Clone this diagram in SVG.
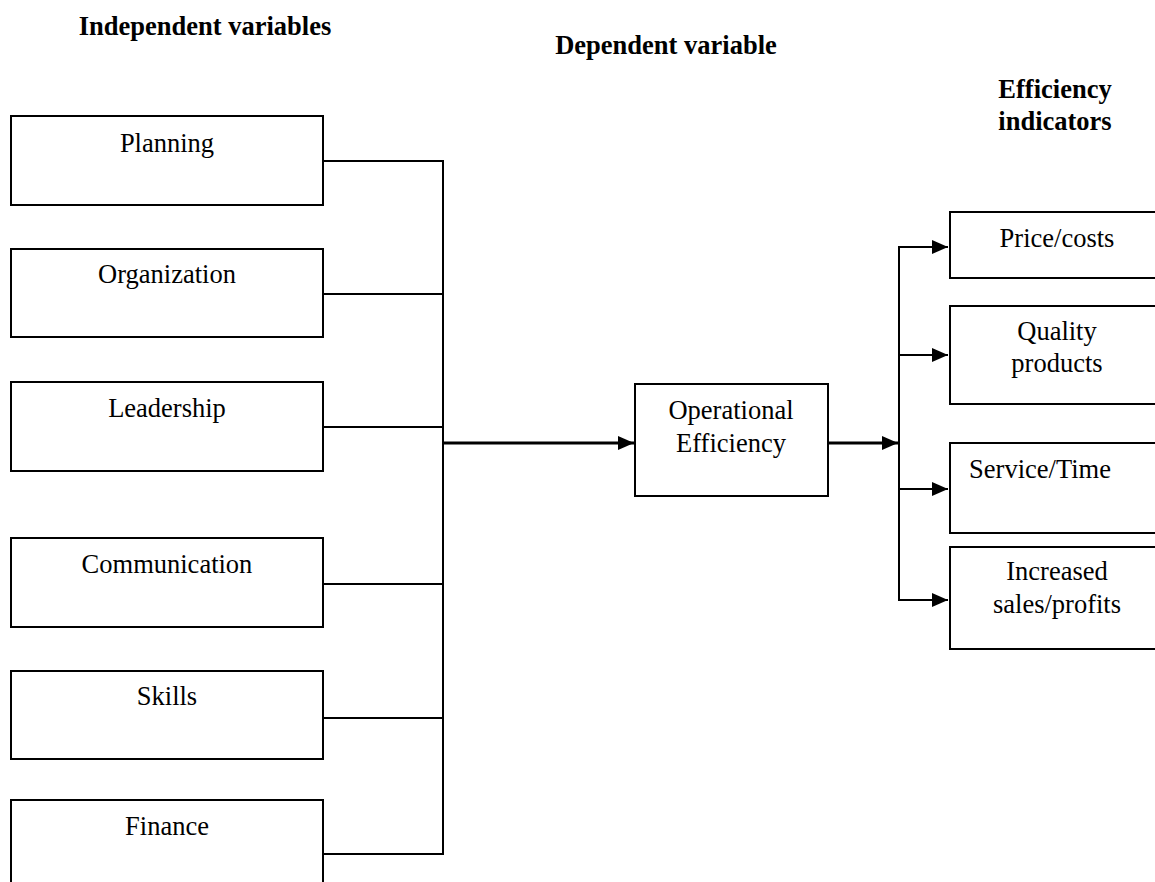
<svg xmlns="http://www.w3.org/2000/svg" width="1155" height="882" viewBox="0 0 1155 882">
<style>
.box{fill:#fff;stroke:#000;stroke-width:2}
.t{font-family:"Liberation Serif","Times New Roman",serif;font-size:26.5px;fill:#000;text-anchor:middle}
.h{font-family:"Liberation Serif","Times New Roman",serif;font-size:26.5px;font-weight:bold;fill:#000;text-anchor:middle}
.ln{fill:none;stroke:#000;stroke-width:2}
.thick{fill:none;stroke:#000;stroke-width:3}
</style>
<defs>
<marker id="ah" markerUnits="userSpaceOnUse" markerWidth="16" markerHeight="16" refX="16" refY="8" orient="auto" viewBox="0 0 16 16"><path d="M0,1 L16,8 L0,15 z" fill="#000"/></marker>
</defs>
<rect width="1155" height="882" fill="#fff"/>
<g id="headers">
<text class="h" x="205" y="35">Independent variables</text>
<text class="h" x="666" y="54">Dependent variable</text>
<text class="h" x="1055" y="98">Efficiency</text>
<text class="h" x="1055" y="130">indicators</text>
</g>
<g id="connectors">
<path class="ln" d="M323,161 H443 M323,294 H443 M323,427 H443 M323,584 H443 M323,718 H443 M323,854 H443 M443,160 V855"/>
<path class="thick" d="M443,443 H634" marker-end="url(#ah)"/>
<path class="thick" d="M828,443 H898" marker-end="url(#ah)"/>
<path class="ln" d="M899,246 V601"/>
<path class="ln" d="M899,247 H948" marker-end="url(#ah)"/>
<path class="ln" d="M899,355 H948" marker-end="url(#ah)"/>
<path class="ln" d="M899,489 H948" marker-end="url(#ah)"/>
<path class="ln" d="M899,600 H948" marker-end="url(#ah)"/>
</g>
<g id="planning"><rect class="box" x="11" y="116" width="312" height="89"/><text class="t" x="167" y="152">Planning</text></g>
<g id="organization"><rect class="box" x="11" y="249" width="312" height="88"/><text class="t" x="167" y="283">Organization</text></g>
<g id="leadership"><rect class="box" x="11" y="382" width="312" height="89"/><text class="t" x="167" y="417">Leadership</text></g>
<g id="communication"><rect class="box" x="11" y="538" width="312" height="89"/><text class="t" x="167" y="573">Communication</text></g>
<g id="skills"><rect class="box" x="11" y="671" width="312" height="88"/><text class="t" x="167" y="705">Skills</text></g>
<g id="finance"><rect class="box" x="11" y="800" width="312" height="100"/><text class="t" x="167" y="835">Finance</text></g>
<g id="operational"><rect class="box" x="635" y="384" width="193" height="112"/><text class="t" x="731" y="419">Operational</text><text class="t" x="731" y="452">Efficiency</text></g>
<g id="price"><rect class="box" x="950" y="212" width="216" height="66"/><text class="t" x="1057" y="247">Price/costs</text></g>
<g id="quality"><rect class="box" x="950" y="306" width="216" height="98"/><text class="t" x="1057" y="340">Quality</text><text class="t" x="1057" y="372">products</text></g>
<g id="service"><rect class="box" x="950" y="443" width="216" height="90"/><text class="t" x="1040" y="478">Service/Time</text></g>
<g id="sales"><rect class="box" x="950" y="547" width="216" height="102"/><text class="t" x="1057" y="580">Increased</text><text class="t" x="1057" y="613">sales/profits</text></g>
</svg>
